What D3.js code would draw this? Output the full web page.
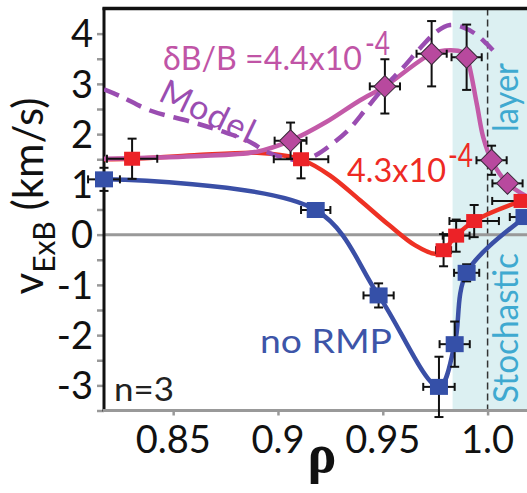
<!DOCTYPE html>
<html>
<head>
<meta charset="utf-8">
<script src="https://cdn.jsdelivr.net/npm/d3@7"></script>
<style>
  html, body { margin: 0; padding: 0; background: #fff; }
  svg { display: block; }
  text { font-family: "Lato", "DejaVu Sans", sans-serif; }
</style>
</head>
<body>
<svg id="chart" width="527" height="493"></svg>
<script>
// ---------------- data ----------------
// no RMP (blue squares)
const rhoBlue   = [0.817, 0.918, 0.948, 0.9768, 0.9843, 0.990, 1.0176];
const vBlue     = [1.10, 0.49, -1.21, -3.03, -2.18, -0.76, 0.35];
const xErrBlue  = [0.0076, 0.007, 0.0072, 0.0075, 0.0072, 0.006, 0.007];
const yErrBlue  = [0.23, 0.04, 0.24, 0.60, 0.45, 0.17, 0.08];
const fitRhoBlue = [0.817, 0.918, 0.948, 0.9768, 0.9843, 0.990, 1.0176, 1.0195];
const fitVBlue   = [1.10, 0.49, -1.21, -3.03, -2.18, -0.76, 0.35, 0.42];

// dB/B = 4.3e-4 (red squares)
const rhoRed   = [0.8304, 0.911, 0.979, 0.985, 0.9936, 1.0162];
const vRed     = [1.51, 1.50, -0.31, -0.02, 0.27, 0.67];
const xErrRed  = [0.012, 0.013, 0.0036, 0.0064, 0.0118, 0.014];
const yErrRed  = [0.40, 0.38, 0.32, 0.32, 0.32, 0.06];
const fitRhoRed = [0.817, 0.8304, 0.86, 0.89, 0.905, 0.911, 0.9247, 0.939, 0.953, 0.9653, 0.9748, 0.979, 0.985, 0.9936, 1.0162, 1.0195];
const fitVRed   = [1.50, 1.51, 1.58, 1.63, 1.56, 1.50, 1.18, 0.69, 0.19, -0.21, -0.38, -0.31, -0.02, 0.27, 0.67, 0.71];

// dB/B = 4.4e-4 (purple diamonds)
const rhoPur   = [0.906, 0.951, 0.9733, 0.990, 1.0019, 1.0095];
const vPur     = [1.87, 2.95, 3.60, 3.53, 1.48, 1.02];
const xErrPur  = [0.0076, 0.0072, 0.0072, 0.0072, 0.0072, 0.0072];
const yErrPur  = [0.36, 0.54, 0.65, 0.65, 0.29, 0.08];
const fitRhoPur = [0.817, 0.86, 0.89, 0.906, 0.923, 0.939, 0.951, 0.9733, 0.982, 0.988, 0.990, 0.9948, 0.9979, 1.0019, 1.0095, 1.0195];
const fitVPur   = [1.51, 1.56, 1.65, 1.87, 2.24, 2.67, 2.95, 3.60, 3.67, 3.63, 3.53, 2.61, 1.94, 1.48, 1.02, 0.74];

// Model (dashed)
const rhoModel = [0.817, 0.825, 0.839, 0.859, 0.873, 0.886, 0.895, 0.904, 0.911, 0.918, 0.926, 0.934, 0.942, 0.950, 0.960, 0.968, 0.976, 0.982, 0.988, 0.994, 0.9995, 1.0034];
const vModel   = [2.89, 2.75, 2.47, 2.24, 2.06, 1.86, 1.64, 1.52, 1.48, 1.58, 1.81, 2.10, 2.50, 2.90, 3.34, 3.72, 4.05, 4.17, 4.13, 4.00, 3.80, 3.63];

// axes ticks
const xTicks = [0.85, 0.9, 0.95, 1.0];
const xTickLabels = ["0.85", "0.9", "0.95", "1.0"];
const yTicksMinor = [-3.5, -3, -2.5, -2, -1.5, -1, -0.5, 0, 0.5, 1, 1.5, 2, 2.5, 3, 3.5, 4];
const yTickLabels = [-3, -2, -1, 0, 1, 2, 3, 4];
const layerStart = 0.9833;
const separatrix = 1.0;

// ---------------- drawing ----------------
const svg = d3.select("#chart");
const L = 104, R = 527, T = 8.5, B = 410.5;
const x = d3.scaleLinear().domain([0.817, 1.0188]).range([L, R]);
const y = d3.scaleLinear().domain([-3.5, 4.5]).range([B, T]);

const defs = svg.append("defs");
defs.append("clipPath").attr("id", "clip")
  .append("rect").attr("x", L).attr("y", T).attr("width", R - L).attr("height", B - T);

// stochastic layer shading
svg.append("rect")
  .attr("x", x(layerStart)).attr("y", T)
  .attr("width", R - x(layerStart)).attr("height", B - T)
  .attr("fill", "#dcf0f2");

// separatrix dashed line
svg.append("line")
  .attr("x1", x(separatrix)).attr("x2", x(separatrix))
  .attr("y1", T).attr("y2", B)
  .attr("stroke", "#333").attr("stroke-width", 1.5)
  .attr("stroke-dasharray", "7,4");

// zero line
svg.append("line")
  .attr("x1", L).attr("x2", R).attr("y1", y(0)).attr("y2", y(0))
  .attr("stroke", "#999").attr("stroke-width", 3);

// y axis
const yAxis = d3.axisLeft(y).tickValues(yTicksMinor).tickSize(7).tickFormat("");
const gy = svg.append("g").attr("transform", `translate(${L},0)`).call(yAxis);
gy.select(".domain").remove();
gy.selectAll(".tick line").attr("stroke", "#999").attr("stroke-width", 2.5);
svg.append("line").attr("x1", L).attr("x2", L).attr("y1", T - 1).attr("y2", B + 1)
  .attr("stroke", "#111").attr("stroke-width", 3);
svg.selectAll(".ylab").data(yTickLabels).enter().append("text")
  .attr("class", "ylab")
  .attr("x", 93).attr("y", d => y(d)).attr("dy", "0.36em")
  .attr("text-anchor", "end").attr("font-size", 38).attr("fill", "#111")
  .text(d => d);

// x axis
const xAxis = d3.axisBottom(x).tickValues(xTicks).tickSize(5).tickFormat("");
const gx = svg.append("g").attr("transform", `translate(0,${B})`).call(xAxis);
gx.select(".domain").remove();
gx.selectAll(".tick line").attr("stroke", "#999").attr("stroke-width", 2.5);
svg.append("line").attr("x1", L - 1).attr("x2", R).attr("y1", B).attr("y2", B)
  .attr("stroke", "#999").attr("stroke-width", 3);
svg.selectAll(".xlab").data(xTicks).enter().append("text")
  .attr("class", "xlab")
  .attr("x", d => x(d)).attr("y", 453)
  .attr("text-anchor", "middle").attr("font-size", 38).attr("fill", "#111")
  .text((d, i) => xTickLabels[i]);

// top border
svg.append("line").attr("x1", L - 1.5).attr("x2", R).attr("y1", T).attr("y2", T)
  .attr("stroke", "#111").attr("stroke-width", 3.5);

// curves
const plot = svg.append("g").attr("clip-path", "url(#clip)");
const lineGen = d3.line().x(d => x(d[0])).y(d => y(d[1])).curve(d3.curveCatmullRom.alpha(0.5));
const zip = (a, b) => a.map((v, i) => [v, b[i]]);

plot.append("path").datum(zip(fitRhoBlue, fitVBlue)).attr("d", lineGen)
  .attr("fill", "none").attr("stroke", "#3a4fa6").attr("stroke-width", 4.5);
plot.append("path").datum(zip(fitRhoRed, fitVRed)).attr("d", lineGen)
  .attr("fill", "none").attr("stroke", "#ee3124").attr("stroke-width", 4.5);
plot.append("path").datum(zip(fitRhoPur, fitVPur)).attr("d", lineGen)
  .attr("fill", "none").attr("stroke", "#c35aa8").attr("stroke-width", 4.5);
plot.append("path").datum(zip(rhoModel, vModel)).attr("d", lineGen)
  .attr("fill", "none").attr("stroke", "#9a4db1").attr("stroke-width", 4.5)
  .attr("stroke-dasharray", "16,9");

// error bars
function errorBars(rhos, vals, xe, ye) {
  const g = svg.append("g").attr("stroke", "#111").attr("stroke-width", 2).attr("fill", "none");
  rhos.forEach((r, i) => {
    const cx = x(r), cy = y(vals[i]);
    const x0 = x(r - xe[i]), x1 = x(r + xe[i]);
    const y0 = y(vals[i] + ye[i]), y1 = y(vals[i] - ye[i]);
    g.append("line").attr("x1", x0).attr("x2", x1).attr("y1", cy).attr("y2", cy);
    g.append("line").attr("x1", x0).attr("x2", x0).attr("y1", cy - 4).attr("y2", cy + 4);
    g.append("line").attr("x1", x1).attr("x2", x1).attr("y1", cy - 4).attr("y2", cy + 4);
    if (ye[i] > 0.1) {
      g.append("line").attr("x1", cx).attr("x2", cx).attr("y1", y0).attr("y2", y1);
      g.append("line").attr("x1", cx - 4.5).attr("x2", cx + 4.5).attr("y1", y0).attr("y2", y0);
      g.append("line").attr("x1", cx - 4.5).attr("x2", cx + 4.5).attr("y1", y1).attr("y2", y1);
    }
  });
}
errorBars(rhoBlue, vBlue, xErrBlue, yErrBlue);
errorBars(rhoRed, vRed, xErrRed, yErrRed);
errorBars(rhoPur, vPur, xErrPur, yErrPur);

// markers
const mk = svg.append("g");
mk.selectAll(".bsq").data(zip(rhoBlue, vBlue)).enter().append("rect")
  .attr("x", d => x(d[0]) - 9).attr("y", d => y(d[1]) - 8)
  .attr("width", 18).attr("height", 16).attr("fill", "#3550a8");
mk.selectAll(".rsq").data(zip(rhoRed, vRed)).enter().append("rect")
  .attr("x", d => x(d[0]) - 8).attr("y", d => y(d[1]) - 7)
  .attr("width", 16).attr("height", 14).attr("fill", "#ec2227");
mk.selectAll(".pdm").data(zip(rhoPur, vPur)).enter().append("path")
  .attr("d", d3.symbol(d3.symbolSquare, 240))
  .attr("transform", d => `translate(${x(d[0])},${y(d[1])}) rotate(45)`)
  .attr("fill", "#b8499e").attr("stroke", "#3a2a3a").attr("stroke-width", 1);

// ---------------- labels ----------------
// y axis title
const yt = svg.append("text")
  .attr("transform", "translate(43,196) rotate(-90)")
  .attr("text-anchor", "middle").attr("font-size", 42).attr("fill", "#111");
yt.append("tspan").text("v");
yt.append("tspan").attr("font-size", 30).attr("dy", 12).text("ExB");
yt.append("tspan").attr("dy", -12).text(" (km/s)");

// x axis title
svg.append("text").attr("x", 322).attr("y", 472).attr("text-anchor", "middle")
  .style("font-family", "'Liberation Serif', 'DejaVu Serif', serif").attr("font-weight", "bold")
  .attr("font-size", 54).attr("fill", "#111").text("ρ");

// n=3
svg.append("text").attr("x", 114).attr("y", 401).attr("font-size", 32).attr("fill", "#222")
  .attr("textLength", 60).attr("lengthAdjust", "spacingAndGlyphs").text("n=3");

// δB/B label
svg.append("text").attr("x", 163).attr("y", 70).attr("font-size", 32).attr("fill", "#c054a6")
  .attr("textLength", 199).attr("lengthAdjust", "spacingAndGlyphs").text("δB/B =4.4x10");
svg.append("text").attr("x", 365).attr("y", 55).attr("font-size", 32).attr("fill", "#c054a6")
  .attr("textLength", 25).attr("lengthAdjust", "spacingAndGlyphs").text("-4");

// Model
svg.append("text").attr("transform", "translate(157,100) rotate(25.8)")
  .attr("font-size", 34).attr("fill", "#9a4db1")
  .attr("textLength", 101).attr("lengthAdjust", "spacing").text("Model");

// 4.3x10^-4
svg.append("text").attr("x", 347).attr("y", 182).attr("font-size", 32).attr("fill", "#ee2a24")
  .attr("textLength", 99).attr("lengthAdjust", "spacingAndGlyphs").text("4.3x10");
svg.append("text").attr("x", 448).attr("y", 167).attr("font-size", 32).attr("fill", "#ee2a24")
  .attr("textLength", 25).attr("lengthAdjust", "spacingAndGlyphs").text("-4");

// no RMP
svg.append("text").attr("x", 260).attr("y", 353).attr("font-size", 33).attr("fill", "#3d55a8")
  .attr("textLength", 132).attr("lengthAdjust", "spacingAndGlyphs").text("no RMP");

// layer / Stochastic
svg.append("text").attr("transform", "translate(518,132) rotate(-90)")
  .attr("font-size", 34).attr("fill", "#3fa9d0")
  .attr("textLength", 69).attr("lengthAdjust", "spacingAndGlyphs").text("layer");
svg.append("text").attr("transform", "translate(518,403) rotate(-90)")
  .attr("font-size", 34).attr("fill", "#3fa9d0")
  .attr("textLength", 150).attr("lengthAdjust", "spacingAndGlyphs").text("Stochastic");
</script>
</body>
</html>
